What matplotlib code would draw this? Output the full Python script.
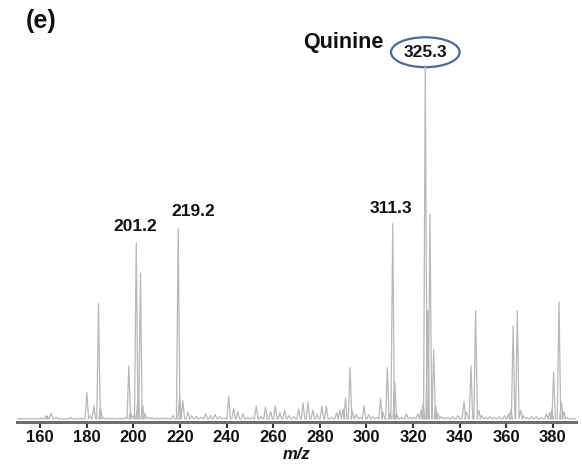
import numpy as np
import matplotlib
matplotlib.use('Agg')
import matplotlib.pyplot as plt
from matplotlib.patches import Ellipse

plt.rcParams['font.family'] = ['Liberation Sans', 'DejaVu Sans']

# peak list: m/z and relative intensity (%)
mz = [155.0, 160.5, 162.5, 163.2, 164.7, 166.9, 170.0, 173.0, 177.0,
      180.0, 181.2, 183.0, 185.0, 185.9, 187.0, 189.0, 191.0, 194.0, 196.5,
      198.0, 198.8, 200.2, 201.2, 201.9, 203.0, 204.0, 205.0, 206.5, 208.0,
      210.0, 212.0, 214.0, 217.0, 219.2, 219.8, 221.2, 223.4, 225.0, 227.0,
      229.0, 231.0, 233.1, 235.1, 237.0, 239.0, 240.9, 243.0, 244.8, 247.0,
      249.0, 251.0, 252.7, 254.8, 256.7, 258.9, 260.9, 262.9, 264.9, 266.7,
      268.8, 270.9, 272.8, 274.9, 277.0, 278.9, 280.9, 282.8, 285.0, 287.2,
      288.6, 290.0, 291.0, 293.0, 294.0, 295.7, 297.3, 299.0, 301.0, 302.8,
      304.5, 306.1, 307.1, 309.0, 310.0, 311.3, 312.2, 313.0, 315.0, 317.2,
      319.0, 320.5, 322.1, 323.5, 324.3, 325.3, 326.3, 327.3, 328.9, 329.8,
      330.7, 332.0, 333.5, 335.0, 337.0, 339.3, 341.9, 343.0, 344.9, 346.9,
      348.3, 349.5, 351.0, 353.0, 355.0, 357.0, 359.3, 361.0, 362.0, 363.0,
      364.8, 366.3, 367.5, 369.0, 371.0, 373.0, 375.0, 377.3, 378.7, 379.6,
      380.4, 382.7, 383.7, 384.8, 386.0, 388.0]
intensity = [0.6, 0.8, 1.5, 1.2, 2.2, 1.0, 0.6, 1.0, 0.8,
             8.0, 1.5, 4.3, 33.0, 3.6, 1.0, 0.8, 0.7, 0.8, 1.0,
             15.4, 2.5, 1.5, 50.0, 6.0, 41.5, 4.3, 2.0, 1.0, 1.0,
             0.8, 0.8, 0.8, 1.5, 54.0, 6.7, 5.7, 2.5, 1.5, 1.3,
             1.0, 2.0, 1.5, 1.8, 1.2, 0.8, 7.0, 3.4, 2.6, 2.0,
             1.0, 1.0, 4.2, 1.2, 3.9, 2.6, 4.2, 2.3, 3.0, 1.5,
             1.2, 3.3, 5.0, 5.2, 3.0, 1.8, 4.2, 4.2, 1.0, 2.3,
             3.0, 3.3, 6.4, 15.0, 2.8, 1.8, 1.0, 4.2, 1.8, 1.2,
             1.0, 6.4, 2.5, 15.0, 2.0, 55.5, 11.0, 2.0, 1.0, 2.0,
             1.0, 1.0, 2.0, 3.0, 5.0, 100.0, 31.0, 58.0, 20.0, 4.0,
             2.0, 1.2, 1.0, 1.0, 1.2, 1.5, 5.4, 2.5, 15.5, 31.0,
             3.0, 1.5, 1.0, 1.2, 1.0, 1.2, 1.5, 2.0, 3.0, 26.7,
             31.0, 3.0, 1.5, 1.0, 1.2, 1.2, 1.0, 2.0, 2.3, 3.0,
             13.7, 33.4, 5.3, 2.6, 1.0, 0.7]

labels = ['201.2', '219.2', '311.3']
label_x = [200.6, 225.6, 310.6]
label_y = [54.6, 58.8, 59.7]

xticks = [160, 180, 200, 220, 240, 260, 280, 300, 320, 340, 360, 380]

fig = plt.figure(figsize=(5.82, 4.68), dpi=100)
ax = fig.add_axes([0.0292, 0.0983, 0.9605, 0.7627])

# draw each peak as a narrow profile on a low baseline
hw = 0.75
base = 0.6
xs, ys = [150.0], [base]
for m, h in sorted(zip(mz, intensity)):
    xs += [m - hw, m, m + hw]
    ys += [base, h, base]
xs.append(390.0)
ys.append(base)
ax.plot(xs, ys, color='#b8b8b8', lw=0.9)

ax.set_xlim(150, 390)
ax.set_ylim(-0.3, 100)

for s in ['top', 'right', 'left']:
    ax.spines[s].set_visible(False)
ax.spines['bottom'].set_color('#6e6e6e')
ax.spines['bottom'].set_linewidth(2.2)
ax.set_yticks([])
ax.set_xticks(xticks)
ax.tick_params(axis='x', direction='out', length=4, width=1.5, color='#333333',
               labelsize=12, pad=2)
for t in ax.get_xticklabels():
    t.set_fontweight('bold')
    t.set_color('#111111')
ax.set_xlabel('m/z', fontsize=12, fontweight='bold', style='italic',
              color='#111111', labelpad=1)

for lab, x, y in zip(labels, label_x, label_y):
    ax.text(x, y, lab, ha='center', va='center', fontsize=12.5,
            fontweight='bold', color='#111111')

ax.text(325.3, 103.4, '325.3', ha='center', va='center', fontsize=12.5,
        fontweight='bold', color='#111111', clip_on=False)
ax.add_patch(Ellipse((325.3, 103.6), 29.5, 8.4, fill=False, edgecolor='#4a6a9e',
                     lw=1.6, clip_on=False))
ax.text(290.2, 106.2, 'Quinine', ha='center', va='center', fontsize=15.5,
        fontweight='bold', color='#111111', clip_on=False)

fig.text(0.07, 0.955, '(e)', ha='center', va='center', fontsize=18,
         fontweight='bold', color='#111111')

fig.savefig('out.png', dpi=100)
